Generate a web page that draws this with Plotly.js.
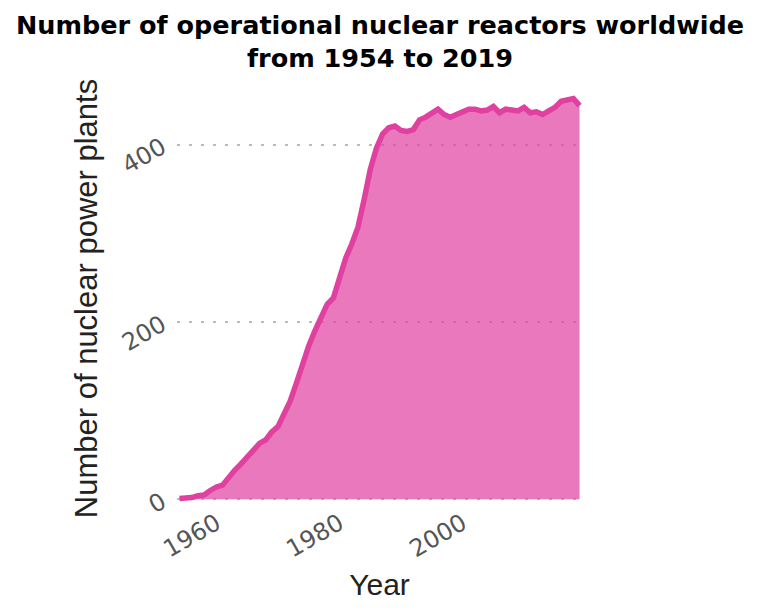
<!DOCTYPE html>
<html>
<head>
<meta charset="utf-8">
<script src="https://cdn.plot.ly/plotly-3.0.1.min.js"></script>
<style>html,body{margin:0;padding:0;background:#fff;}#chart{width:760px;height:612px;}</style>
</head>
<body>
<div id="chart"></div>
<script>
var years = [1954,1955,1956,1957,1958,1959,1960,1961,1962,1963,1964,1965,1966,1967,1968,1969,1970,1971,1972,1973,1974,1975,1976,1977,1978,1979,1980,1981,1982,1983,1984,1985,1986,1987,1988,1989,1990,1991,1992,1993,1994,1995,1996,1997,1998,1999,2000,2001,2002,2003,2004,2005,2006,2007,2008,2009,2010,2011,2012,2013,2014,2015,2016,2017,2018,2019];
var reactors = [1,1,2,4,5,10,14,16,25,33,40,47,55,63,67,76,82,96,111,131,154,173,190,206,220,227,252,272,288,307,338,372,396,412,419,421,416,415,417,428,431,436,440,434,431,434,437,440,440,438,439,443,436,440,439,438,442,436,437,434,438,442,449,450,452,444];
var xTicks = [1960,1980,2000];
var yTicks = [0,200,400];

var trace = {
  x: years, y: reactors, type: 'scatter', mode: 'lines',
  line: {color: 'rgb(224,64,160)', width: 5.5, shape: 'linear'},
  fill: 'tozeroy', fillcolor: 'rgba(224,64,160,0.7)',
  hoverinfo: 'x+y'
};

var layout = {
  width: 760, height: 612,
  paper_bgcolor: '#fff', plot_bgcolor: '#fff',
  margin: {l: 176.5, r: 177.5, t: 95.4, b: 110.3, pad: 0},
  showlegend: false,
  title: {
    text: '<b>Number of operational nuclear reactors worldwide<br>from 1954 to 2019</b>',
    font: {family: 'DejaVu Sans', size: 25.5, color: '#000'},
    x: 0.5, xanchor: 'center', y: 0.944, yanchor: 'top'
  },
  xaxis: {
    range: [1953.6, 2019.4],
    tickvals: xTicks, ticktext: xTicks.map(String),
    tickangle: -30,
    tickfont: {family: 'DejaVu Sans', size: 24, color: '#555'},
    ticklabelstandoff: 2,
    showgrid: false, zeroline: false, showline: false, ticks: '',
    title: {text: 'Year', font: {family: 'Liberation Sans', size: 30, color: '#222'}, standoff: 11}
  },
  yaxis: {
    range: [-3, 456],
    tickvals: yTicks, ticktext: yTicks.map(String),
    tickangle: -30,
    tickfont: {family: 'DejaVu Sans', size: 24, color: '#555'},
    ticklabelstandoff: 14,
    showgrid: true, gridcolor: '#bbbbbb', gridwidth: 2, griddash: '3px,9px',
    zeroline: false, showline: false, ticks: '',
    title: {text: 'Number of nuclear power plants', font: {family: 'Liberation Sans', size: 31, color: '#222'}, standoff: 10}
  }
};

Plotly.newPlot('chart', [trace], layout, {displayModeBar: false, staticPlot: true});
</script>
</body>
</html>
